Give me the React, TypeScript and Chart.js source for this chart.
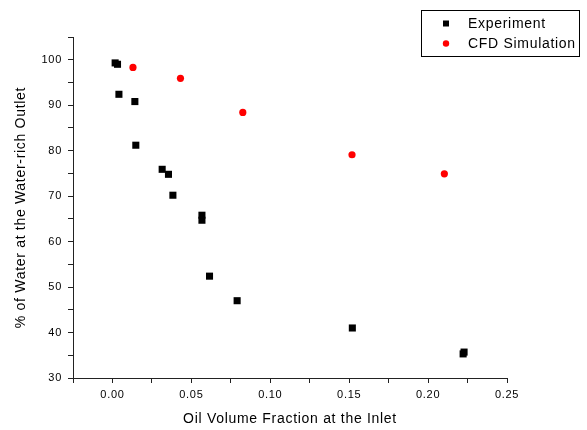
import React, { useEffect, useRef } from 'react';
import { Chart, registerables } from 'chart.js';

Chart.register(...registerables);

const FONT = 'Arial, "Liberation Sans", sans-serif';

// Experiment data (oil volume fraction, % water at water-rich outlet)
const experimentX = [0.0017, 0.0032, 0.0041, 0.0142, 0.0148, 0.0315, 0.0355, 0.0383, 0.0567, 0.0567, 0.0615, 0.079, 0.152, 0.2222, 0.2228];
const experimentY = [99.3, 99.0, 92.4, 90.8, 81.2, 75.9, 74.8, 70.2, 65.8, 64.7, 52.4, 47.0, 41.0, 35.3, 35.7];

// CFD simulation data
const cfdX = [0.013, 0.0431, 0.0826, 0.1518, 0.2103];
const cfdY = [98.3, 95.9, 88.4, 79.1, 74.9];

const xLabel = 'Oil Volume Fraction at the Inlet';
const yLabel = '% of Water at the Water-rich Outlet';
const seriesNames = ['Experiment', 'CFD Simulation'];

const isMultiple = (v: number, step: number) => Math.abs(v / step - Math.round(v / step)) < 1e-6;

const spacingPlugin = {
  id: 'letterSpacing',
  beforeLayout(chart: any) {
    chart.ctx.letterSpacing = '0.7px';
  },
  beforeDraw(chart: any) {
    chart.ctx.letterSpacing = '0.7px';
  },
};

const legendPlugin = {
  id: 'boxLegend',
  afterDraw(chart: any) {
    const ctx = chart.ctx;
    ctx.save();
    ctx.letterSpacing = '0.7px';
    ctx.strokeStyle = '#000';
    ctx.lineWidth = 1;
    ctx.strokeRect(421.5, 10.5, 158, 46);
    chart.data.datasets.forEach((ds: any, i: number) => {
      const cy = 23.5 + i * 20;
      ctx.fillStyle = ds.backgroundColor;
      if (ds.pointStyle === 'rect') {
        ctx.fillRect(443, cy - 3, 6, 6);
      } else {
        ctx.beginPath();
        ctx.arc(446, cy, 3.2, 0, Math.PI * 2);
        ctx.fill();
      }
      ctx.fillStyle = '#000';
      ctx.font = '14px ' + FONT;
      ctx.textBaseline = 'alphabetic';
      ctx.textAlign = 'left';
      ctx.fillText(ds.label, 468, cy + 4.5);
    });
    ctx.restore();
  },
};

export default function App() {
  const canvasRef = useRef<HTMLCanvasElement | null>(null);

  useEffect(() => {
    if (!canvasRef.current) return;
    const chart = new Chart(canvasRef.current, {
      type: 'scatter',
      data: {
        datasets: [
          {
            label: seriesNames[0],
            data: experimentX.map((x, i) => ({ x, y: experimentY[i] })),
            backgroundColor: '#000000',
            borderColor: '#000000',
            pointStyle: 'rect',
            pointRadius: 5,
            pointBorderWidth: 0,
            pointHoverRadius: 5,
          },
          {
            label: seriesNames[1],
            data: cfdX.map((x, i) => ({ x, y: cfdY[i] })),
            backgroundColor: '#ff0000',
            borderColor: '#ff0000',
            pointStyle: 'circle',
            pointRadius: 3.6,
            pointBorderWidth: 0,
            pointHoverRadius: 3.6,
          },
        ],
      },
      options: {
        animation: false,
        responsive: false,
        devicePixelRatio: 1,
        events: [],
        layout: { padding: { top: 37, right: 80, left: 0, bottom: 0 } },
        plugins: {
          legend: { display: false },
          tooltip: { enabled: false },
          title: { display: false },
        },
        scales: {
          x: {
            type: 'linear',
            min: -0.025,
            max: 0.25,
            ticks: {
              stepSize: 0.025,
              autoSkip: false,
              maxRotation: 0,
              padding: 5,
              color: '#000',
              font: { size: 11, family: FONT },
              callback: (v: any) => (isMultiple(Number(v), 0.05) ? Number(v).toFixed(2) : ''),
            },
            grid: { display: true, drawOnChartArea: false, drawTicks: true, tickLength: 5, color: '#222' },
            border: { display: true, color: '#222', width: 1 },
            title: {
              display: true,
              text: xLabel,
              color: '#000',
              font: { size: 14, family: FONT },
              padding: { top: 0, bottom: 2 },
            },
            afterFit: (s: any) => {
              s.height = 52;
            },
          },
          y: {
            type: 'linear',
            min: 30,
            max: 105,
            ticks: {
              stepSize: 5,
              autoSkip: false,
              padding: 6,
              color: '#000',
              font: { size: 11, family: FONT },
              callback: (v: any) => (isMultiple(Number(v), 10) ? String(Math.round(Number(v))) : ''),
            },
            grid: { display: true, drawOnChartArea: false, drawTicks: true, tickLength: 5, color: '#222' },
            border: { display: true, color: '#222', width: 1 },
            title: {
              display: true,
              text: yLabel,
              color: '#000',
              font: { size: 14, family: FONT },
              padding: { top: 13, bottom: 0 },
            },
            afterFit: (s: any) => {
              s.width = 73;
            },
          },
        },
      },
      plugins: [spacingPlugin, legendPlugin],
    } as any);
    return () => chart.destroy();
  }, []);

  return (
    <div style={{ position: 'fixed', left: 0, top: 0, width: 587, height: 430, background: '#fff' }}>
      <canvas ref={canvasRef} width={587} height={430} />
    </div>
  );
}
